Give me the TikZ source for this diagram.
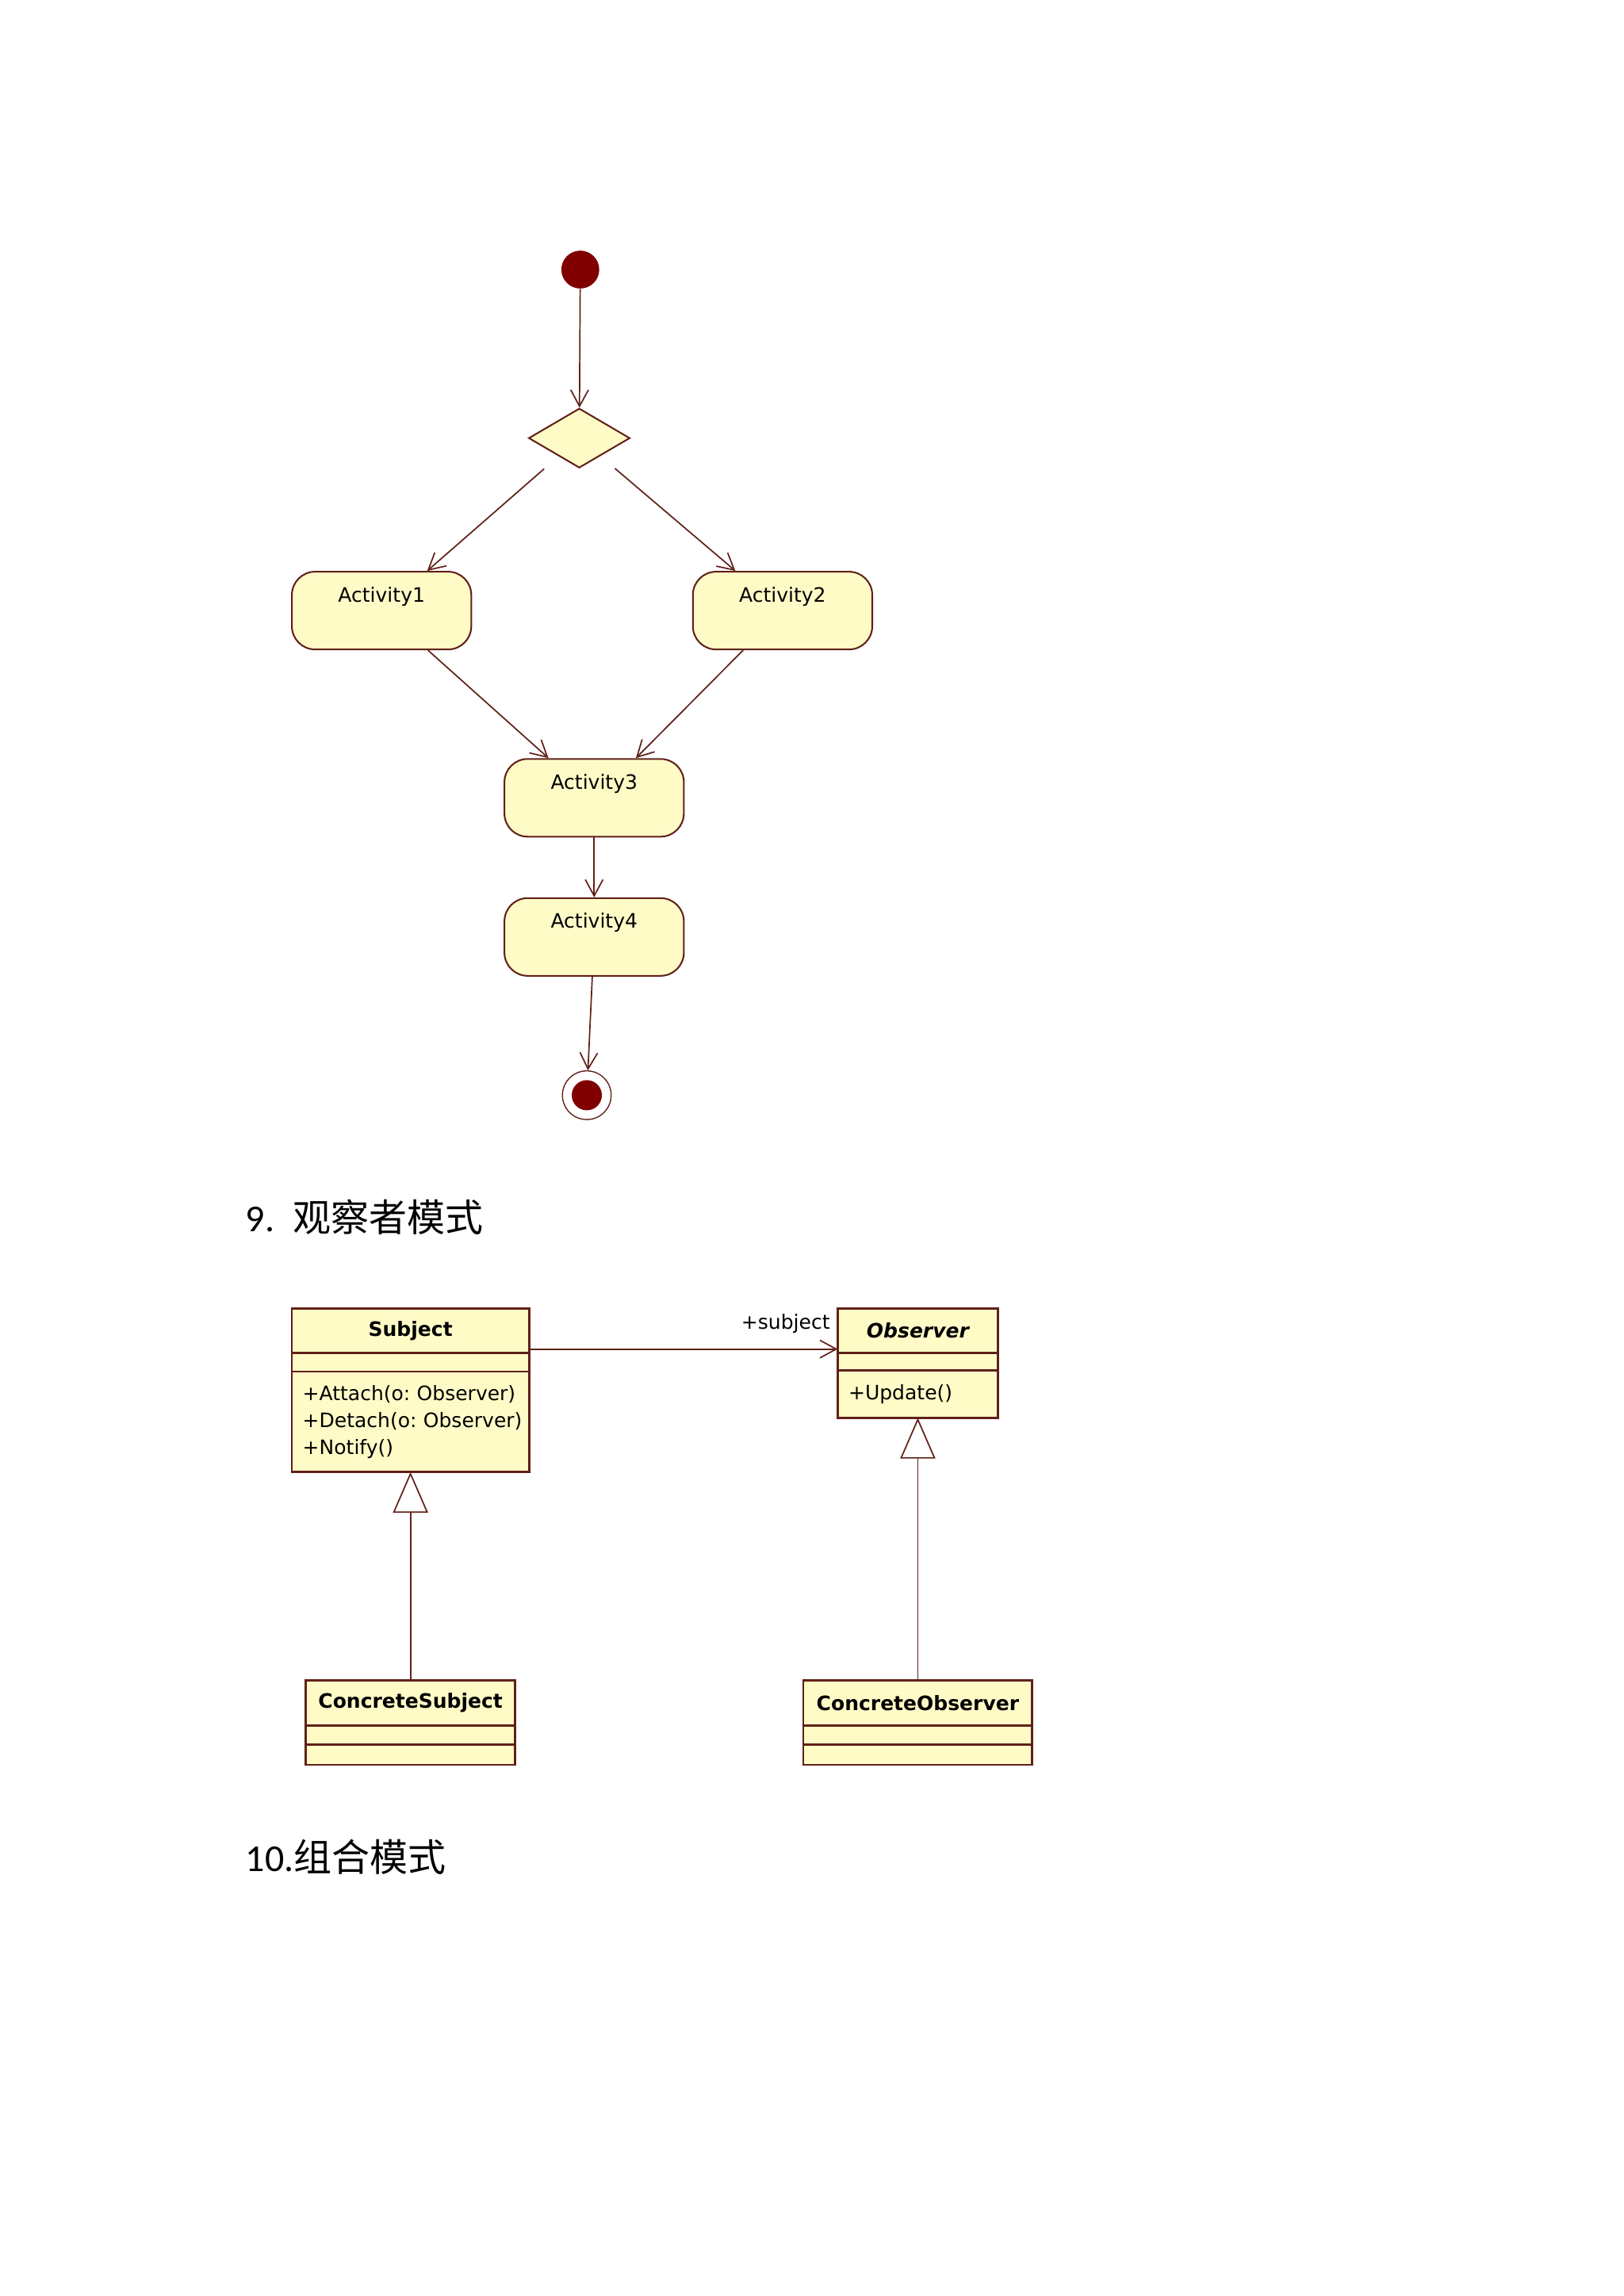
\documentclass[tikz,border=0pt]{standalone}
\usepackage{fontspec}
\setmainfont{Carlito}
\newfontfamily\cjk{Noto Sans CJK SC}
\newfontfamily\umlfont{DejaVu Sans}
\usepackage{tikz}
\usetikzlibrary{arrows.meta,positioning,shapes.geometric}
\frenchspacing

\definecolor{umlfill}{RGB}{255,251,199}
\definecolor{umlline}{RGB}{96,32,24}
\definecolor{umldot}{RGB}{128,0,0}

\tikzset{
  uml/.style={font=\umlfont\fontsize{7.3}{9.9}\selectfont},
  startstate/.style={circle,fill=umldot,inner sep=0,minimum size=0.49cm},
  endstate/.style={circle,draw=umlline,line width=0.4pt,fill=white,inner sep=0,minimum size=0.63cm},
  decision/.style={diamond,draw=umlline,fill=umlfill,line width=0.6pt,inner sep=0,minimum width=1.31cm,minimum height=0.77cm},
  activity/.style={uml,draw=umlline,fill=umlfill,line width=0.6pt,rounded corners=0.3cm,minimum width=2.32cm,inner xsep=0,inner ysep=5.6pt,text height=5.5pt,text depth=11.9pt},
  classbox/.style={uml,draw=umlline,fill=umlfill,line width=0.8pt,outer sep=0,inner sep=0},
  classname/.style={classbox,font=\umlfont\fontsize{7.3}{9.9}\selectfont\bfseries},
  flow/.style={draw=umlline,line width=0.5pt,-{Straight Barb[length=6pt,width=6.5pt]}},
  inherit/.style={draw=umlline,line width=0.5pt,-{Triangle[fill=white,length=15pt,width=12.9pt]}},
  heading/.style={anchor=base west,inner sep=0,font=\fontsize{14}{17}\selectfont}
}

\begin{document}
\begin{tikzpicture}
\useasboundingbox (0,0) rectangle (21,-29.7);

% activity diagram
\node[startstate] (init) at (7.505,-3.487) {};
\node[decision] (dec) at (7.492,-5.667) {};
\node[activity] (act1) at (4.935,-7.898) {Activity1};
\node[activity] (act2) at (10.121,-7.898) {Activity2};
\node[activity] (act3) at (7.684,-10.320) {Activity3};
\node[activity] (act4) at (7.684,-12.120) {Activity4};
\node[endstate] (fin) at (7.589,-14.167) {};
\node[startstate,minimum size=0.39cm] (fincore) at (fin) {};

\draw[flow] (init) -- (dec);
\draw[flow,shorten <=7pt] (dec) -- ([xshift=0.59cm]act1.north);
\draw[flow,shorten <=7pt] (dec) -- ([xshift=-0.61cm]act2.north);
\draw[flow] ([xshift=0.6cm]act1.south) -- ([xshift=-0.59cm]act3.north);
\draw[flow] ([xshift=-0.51cm]act2.south) -- ([xshift=0.54cm]act3.north);
\draw[flow] (act3) -- (act4);
\draw[flow] (act4) -- (fin);

\node[heading] (h9) at (3.171,-15.930) {9.\hspace{6.8pt}{\cjk 观察者模式}};

% observer pattern
\node[classname,minimum width=3.07cm,minimum height=0.578cm] (subj) at (5.309,-17.213) {Subject};
\node[classbox,minimum width=3.07cm,minimum height=0.239cm,below=0pt of subj] (subjattr) {};
\node[classbox,text width=79.35pt,inner xsep=4pt,minimum height=1.30cm,align=left,below=0pt of subjattr] (subjops) {\mbox{+Attach(o: Observer)}\\\mbox{+Detach(o: Observer)}\\\mbox{+Notify()}};

\node[classname,font=\umlfont\fontsize{7.3}{9.9}\selectfont\bfseries\itshape,minimum width=2.073cm,minimum height=0.578cm] (obs) at (11.87,-17.213) {Observer};
\node[classbox,minimum width=2.073cm,minimum height=0.222cm,below=0pt of obs] (obsattr) {};
\node[classbox,text width=50.98pt,inner xsep=4pt,minimum height=0.616cm,align=left,below=0pt of obsattr] (obsops) {\mbox{+Update()}};

\node[classname,minimum width=2.708cm,minimum height=0.588cm] (csubj) at (5.309,-22.029) {ConcreteSubject};
\node[classbox,minimum width=2.708cm,minimum height=0.241cm,below=0pt of csubj] (csubjattr) {};
\node[classbox,minimum width=2.708cm,minimum height=0.265cm,below=0pt of csubjattr] (csubjops) {};

\node[classname,minimum width=2.96cm,minimum height=0.588cm] (cobs) at (11.87,-22.029) {ConcreteObserver};
\node[classbox,minimum width=2.96cm,minimum height=0.241cm,below=0pt of cobs] (cobsattr) {};
\node[classbox,minimum width=2.96cm,minimum height=0.265cm,below=0pt of cobsattr] (cobsops) {};

\draw[flow] ([yshift=1.45pt]subj.south east) -- ([yshift=1.45pt]obs.south west)
  node[uml,anchor=base east,inner sep=0,xshift=-2.6pt,yshift=7.2pt] (role) {+subject};
\draw[inherit] (csubj) -- (subjops);
\draw[inherit] (cobs) -- (obsops);

\node[heading] (h10) at (3.171,-24.203) {10.{\cjk 组合模式}};
\end{tikzpicture}
\end{document}
